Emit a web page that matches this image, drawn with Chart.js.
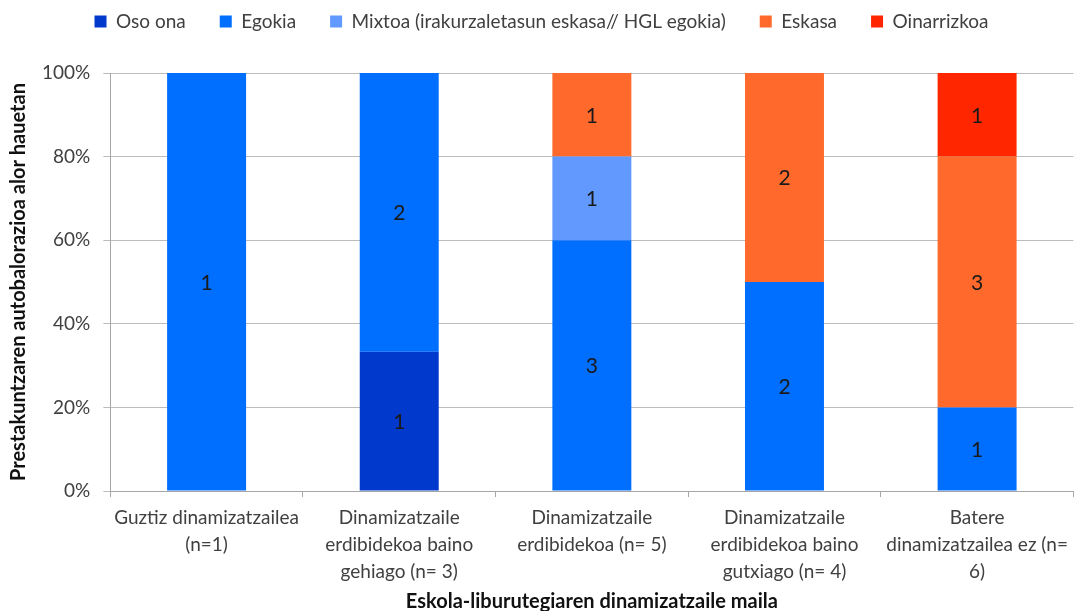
<!DOCTYPE html>
<html>
<head>
<meta charset="utf-8">
<script src="https://cdn.jsdelivr.net/npm/chart.js@4"></script>
<style>
  html, body { margin: 0; padding: 0; background: #fff; }
  #wrap { width: 1075px; height: 611px; position: relative; }
</style>
</head>
<body>
<div id="wrap"><canvas id="chart"></canvas></div>
<script>
// categories (x axis)
const categories = [
  ["Guztiz dinamizatzailea", "(n=1)"],
  ["Dinamizatzaile", "erdibidekoa baino", "gehiago (n= 3)"],
  ["Dinamizatzaile", "erdibidekoa (n= 5)"],
  ["Dinamizatzaile", "erdibidekoa baino", "gutxiago (n= 4)"],
  ["Batere", "dinamizatzailea ez (n=", "6)"]
];

// counts per series (shown as labels, plotted as share of 100%)
const osoOna     = [0, 1, 0, 0, 0];
const egokia     = [1, 2, 3, 2, 1];
const mixtoa     = [0, 0, 1, 0, 0];
const eskasa     = [0, 0, 1, 2, 3];
const oinarrizko = [0, 0, 0, 0, 1];

const seriesNames = [
  "Oso ona",
  "Egokia",
  "Mixtoa (irakurzaletasun eskasa// HGL egokia)",
  "Eskasa",
  "Oinarrizkoa"
];
const seriesCounts = [osoOna, egokia, mixtoa, eskasa, oinarrizko];
const seriesColors = ["#0039CC", "#006EFF", "#6199FF", "#FF6A2C", "#FF2600"];

const yTicks = [0, 20, 40, 60, 80, 100];

const totals = categories.map((c, i) =>
  seriesCounts.reduce((s, arr) => s + arr[i], 0)
);

const datasets = seriesNames.map((name, k) => ({
  label: name,
  data: seriesCounts[k].map((v, i) => v / totals[i] * 100),
  counts: seriesCounts[k],
  backgroundColor: seriesColors[k],
  borderWidth: 0,
  categoryPercentage: 0.41,
  barPercentage: 1
}));

// draw the counts in the middle of each segment
const countLabels = {
  id: "countLabels",
  afterDatasetsDraw(chart) {
    const ctx = chart.ctx;
    ctx.save();
    ctx.font = "21px Lato";
    ctx.fillStyle = "#1a1a1a";
    ctx.textAlign = "center";
    ctx.textBaseline = "middle";
    chart.data.datasets.forEach((ds, di) => {
      const meta = chart.getDatasetMeta(di);
      meta.data.forEach((bar, i) => {
        const n = ds.counts[i];
        if (!n) return;
        ctx.fillText(String(n), bar.x, (bar.y + bar.base) / 2 + 1);
      });
    });
    ctx.restore();
  }
};

// extra room between the legend and the plot
const legendGap = {
  id: "legendGap",
  beforeInit(chart) {
    const fit = chart.legend.fit;
    chart.legend.fit = function () {
      fit.bind(chart.legend)();
      this.height += 32;
    };
  }
};

Chart.defaults.font.family = "Lato, 'Open Sans', sans-serif";

new Chart(document.getElementById("chart"), {
  type: "bar",
  data: { labels: categories, datasets: datasets },
  options: {
    responsive: true,
    maintainAspectRatio: false,
    animation: false,
    layout: { padding: { left: 9, right: 1, top: -22, bottom: -1 } },
    plugins: {
      legend: {
        position: "top",
        labels: {
          boxWidth: 12,
          boxHeight: 12,
          padding: 34,
          color: "#404040",
          font: { size: 19 }
        }
      },
      tooltip: { enabled: false }
    },
    scales: {
      x: {
        stacked: true,
        grid: {
          display: true,
          drawOnChartArea: false,
          drawTicks: true,
          tickLength: 6,
          color: "#a6a6a6",
          offset: true
        },
        border: { color: "#a6a6a6" },
        ticks: {
          color: "#404040",
          padding: 7,
          font: { size: 19, lineHeight: 1.42 },
          maxRotation: 0,
          autoSkip: false
        },
        title: {
          display: true,
          text: "Eskola-liburutegiaren dinamizatzaile maila",
          color: "#111",
          font: { size: 20, weight: "bold", lineHeight: 1 },
          padding: { top: 0, bottom: 0 }
        }
      },
      y: {
        stacked: true,
        min: 0,
        max: 100,
        afterBuildTicks(axis) {
          axis.ticks = yTicks.map(v => ({ value: v }));
        },
        grid: {
          color: "#bcbcbc",
          tickLength: 7
        },
        border: { color: "#a6a6a6" },
        ticks: {
          color: "#404040",
          padding: 13,
          font: { size: 19 },
          callback: v => v + "%"
        },
        title: {
          display: true,
          text: "Prestakuntzaren autobalorazioa alor hauetan",
          color: "#111",
          font: { size: 20, weight: "bold", lineHeight: 1 },
          padding: { top: 0, bottom: 0 }
        }
      }
    }
  },
  plugins: [countLabels, legendGap]
});
</script>
</body>
</html>
